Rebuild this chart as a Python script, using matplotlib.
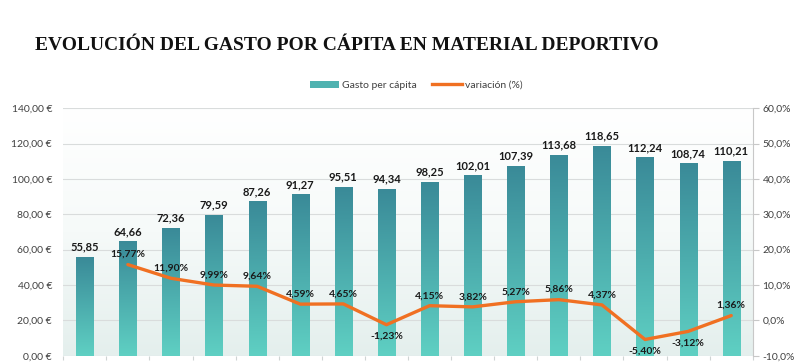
import numpy as np
import matplotlib.pyplot as plt
from matplotlib.colors import LinearSegmentedColormap
from matplotlib.lines import Line2D
from matplotlib.patches import Patch

# data
gasto = [55.85, 64.66, 72.36, 79.59, 87.26, 91.27, 95.51, 94.34,
         98.25, 102.01, 107.39, 113.68, 118.65, 112.24, 108.74, 110.21]
variacion = [15.77, 11.90, 9.99, 9.64, 4.59, 4.65, -1.23, 4.15,
             3.82, 5.27, 5.86, 4.37, -5.40, -3.12, 1.36]
eur_ticks = [0, 20, 40, 60, 80, 100, 120, 140]
pct_ticks = [-10, 0, 10, 20, 30, 40, 50, 60]

def es(v, d):
    return f"{v:.{d}f}".replace('.', ',')

plt.rcParams['font.family'] = ['Lato', 'DejaVu Sans']

fig = plt.figure(figsize=(8, 3.63), dpi=100)
ax = fig.add_axes([0.079, 0.02, 0.862, 0.682])
ax2 = ax.twinx()

x = np.arange(len(gasto))

# background gradient of the plot area
bg = LinearSegmentedColormap.from_list('bg', ['#e4efed', '#f6faf9', '#ffffff'])
ax.imshow(np.linspace(0, 1, 256).reshape(-1, 1), cmap=bg, origin='lower',
          extent=[0, 1, 0, 1], transform=ax.transAxes, aspect='auto', zorder=0)

ax.set_yticks(eur_ticks)
ax.set_yticklabels([es(t, 2) + ' €' for t in eur_ticks])
ax.yaxis.grid(True, color='#d9dcdc', lw=0.8)
ax.set_axisbelow(True)

# bars with vertical gradient
bar_cmap = LinearSegmentedColormap.from_list('bar', ['#5fd0c3', '#3a8a98'])
bars = ax.bar(x, gasto, width=0.4, color='none', zorder=2)
grad = np.linspace(0, 1, 256).reshape(-1, 1)
for b in bars:
    x0, w, h = b.get_x(), b.get_width(), b.get_height()
    im = ax.imshow(grad, cmap=bar_cmap, origin='lower', aspect='auto',
                   extent=[x0, x0 + w, 0, h], zorder=2)
    im.set_clip_path(b)
for xi, v in zip(x, gasto):
    ax.annotate(es(v, 2), (xi, v), xytext=(0, 3), textcoords='offset points',
                ha='center', va='bottom', fontsize=8, fontweight='bold',
                color='#1a1a1a', zorder=5)
ax.set_xlim(-0.5, len(gasto) - 0.5)
ax.set_ylim(0, 140)

# variation line
xl = x[1:]
ax2.plot(xl, variacion, color='#f07022', lw=2.4, zorder=4, solid_capstyle='round')
ax2.set_ylim(-10, 60)
ax2.set_yticks(pct_ticks)
ax2.set_yticklabels([es(t, 1) + '%' for t in pct_ticks])
for xi, v in zip(xl, variacion):
    if v < 0:
        off, va = -5, 'top'
    else:
        off, va = 4, 'bottom'
    ax2.annotate(es(v, 2) + '%', (xi, v), xytext=(0, off), textcoords='offset points',
                 ha='center', va=va, fontsize=7.5, fontweight='bold',
                 color='#1a1a1a', zorder=5)

# axes styling
ax.set_xticks(np.arange(len(gasto) + 1) - 0.5)
ax.set_xticklabels([])
ax.tick_params(axis='x', length=3, color='#cfd4d4')
ax.tick_params(axis='y', length=0, labelsize=7.5, labelcolor='#404040', pad=8)
ax2.tick_params(axis='y', length=4, color='#c8c8c8', labelsize=7.5, labelcolor='#404040', pad=3)
for a in (ax, ax2):
    for s in ('top', 'left', 'bottom'):
        a.spines[s].set_visible(False)
ax.spines['right'].set_visible(False)
ax2.spines['right'].set_color('#c8c8c8')
ax2.spines['right'].set_linewidth(0.8)

fig.text(0.044, 0.874, 'EVOLUCIÓN DEL GASTO POR CÁPITA EN MATERIAL DEPORTIVO',
         fontsize=14, fontweight='bold', family='Liberation Serif',
         ha='left', va='center', color='#111111')

handles = [Patch(facecolor='#4fb2b0', edgecolor='none'),
           Line2D([0], [0], color='#f07022', lw=2.4)]
fig.legend(handles, ['Gasto per cápita', 'variación (%)'], loc='center',
           bbox_to_anchor=(0.52, 0.765), ncol=2, frameon=False, fontsize=7.5,
           handlelength=2.8, handleheight=0.7, columnspacing=1.5, handletextpad=0.3,
           labelcolor='#404040')

fig.savefig('out.png', dpi=100)
